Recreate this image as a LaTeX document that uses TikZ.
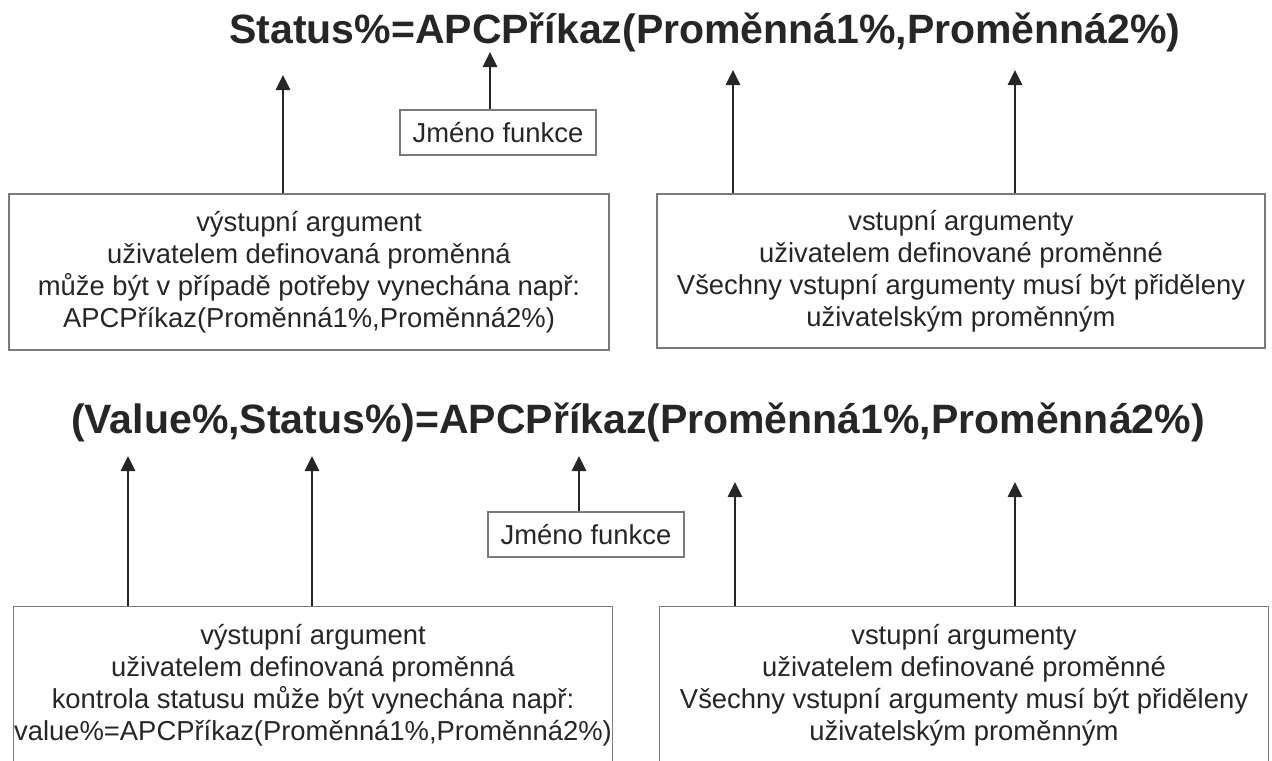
\documentclass[tikz,border=0pt]{standalone}
\usepackage{fontspec}
\setmainfont{Liberation Sans}
\usetikzlibrary{arrows.meta,positioning}
\definecolor{ink}{HTML}{262626}
\definecolor{boxgray}{HTML}{7A7A7A}
\tikzset{
  formula/.style={font=\fontsize{20.5}{24}\selectfont\bfseries, text=ink, inner sep=0pt, anchor=base},
  argbox/.style={draw=boxgray, line width=0.7pt, text=ink, align=center, font=\fontsize{13.7}{16}\selectfont, inner sep=0pt},
  namebox/.style={draw=boxgray, line width=0.7pt, text=ink, font=\fontsize{13.7}{16}\selectfont, minimum width=98pt, minimum height=22.5pt, inner sep=0pt},
  pointer/.style={-{Triangle[length=7.5pt,width=7pt]}, line width=1.4pt, draw=ink},
}
\begin{document}
\begin{tikzpicture}[x=0.5pt,y=-0.5pt]
\useasboundingbox (0,0) rectangle (1272,760);
\clip (0,0) rectangle (1272,760);
% upper call
\node[formula] (F1) at (705,43) {Status\%=APCPříkaz(Proměnná1\%,Proměnná2\%)};
\node[namebox] (J1) at (498,132.5) {Jméno funkce};
\node[argbox, minimum width=300pt, minimum height=78pt] (L1) at (309,272) {výstupní argument\\uživatelem definovaná proměnná\\může být v případě potřeby vynechána např:\\APCPříkaz(Proměnná1\%,Proměnná2\%)};
\node[argbox, minimum width=304pt, minimum height=77pt] (R1) at (961,271) {vstupní argumenty\\uživatelem definované proměnné\\Všechny vstupní argumenty musí být přiděleny\\uživatelským proměnným};
\coordinate (a1) at (283,75);
\coordinate (a2) at (490,52);
\coordinate (a3) at (733,70);
\coordinate (a4) at (1015,70);
\draw[pointer] (a1 |- L1.north) -- (a1);
\draw[pointer] (a2 |- J1.north) -- (a2);
\draw[pointer] (a3 |- R1.north) -- (a3);
\draw[pointer] (a4 |- R1.north) -- (a4);
% lower call
\node[formula] (F2) at (638,433) {(Value\%,Status\%)=APCPříkaz(Proměnná1\%,Proměnná2\%)};
\node[namebox] (J2) at (586,534.5) {Jméno funkce};
\node[argbox, draw=none, minimum width=299pt, minimum height=78pt] (L2) at (313,685) {výstupní argument\\uživatelem definovaná proměnná\\kontrola statusu může být vynechána např:\\value\%=APCPříkaz(Proměnná1\%,Proměnná2\%)};
\node[argbox, draw=none, minimum width=304pt, minimum height=78pt] (R2) at (964,685) {vstupní argumenty\\uživatelem definované proměnné\\Všechny vstupní argumenty musí být přiděleny\\uživatelským proměnným};
\draw[boxgray, line width=0.7pt] (L2.north west) rectangle ([yshift=-20pt]L2.south east);
\draw[boxgray, line width=0.7pt] (R2.north west) rectangle ([yshift=-20pt]R2.south east);
\coordinate (b1) at (128,456);
\coordinate (b2) at (312,456);
\coordinate (b3) at (579,456);
\coordinate (b4) at (735,482);
\coordinate (b5) at (1015,482);
\draw[pointer] (b1 |- L2.north) -- (b1);
\draw[pointer] (b2 |- L2.north) -- (b2);
\draw[pointer] (b3 |- J2.north) -- (b3);
\draw[pointer] (b4 |- R2.north) -- (b4);
\draw[pointer] (b5 |- R2.north) -- (b5);
\end{tikzpicture}
\end{document}
